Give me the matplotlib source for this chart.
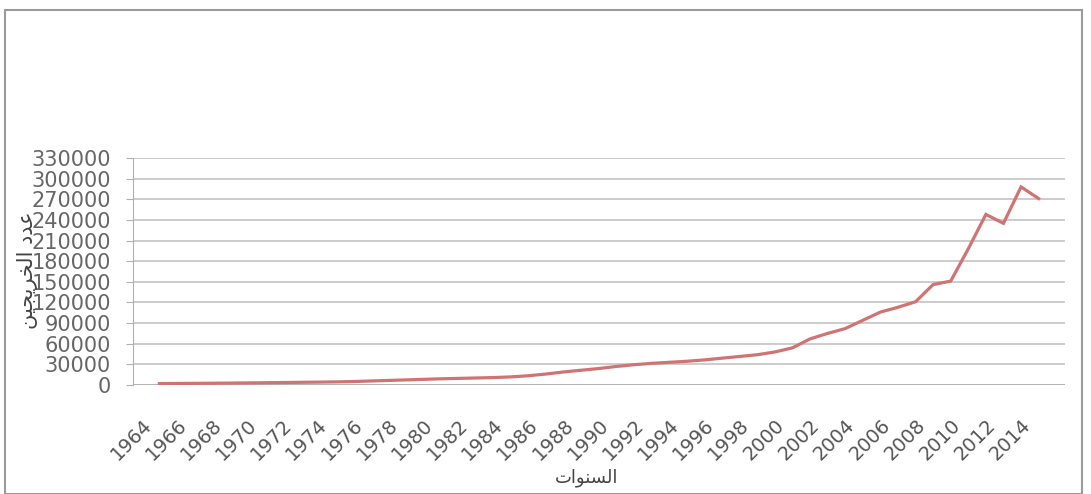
import numpy as np
import matplotlib
matplotlib.use("Agg")
import matplotlib.pyplot as plt
from matplotlib.patches import Rectangle

plt.rcParams['font.family'] = ['DejaVu Sans']

# years on the category axis (last slot stays empty, as in the original)
years = list(range(1964, 2017))
# number of graduates (1964 and 2016 have no value)
graduates = [np.nan,
             2000, 2200, 2400, 2600, 2800, 3000, 3300, 3600, 3900, 4200,
             4500, 5000, 5800, 6600, 7400, 8200, 9000, 9600, 10200, 10800,
             11800, 13500, 16000, 19000, 21500, 24000, 27000, 29500, 31500, 33000,
             34500, 36500, 39000, 41500, 44000, 48000, 54000, 67000, 75000, 82000,
             94000, 106000, 113000, 121000, 146000, 151000, 198000, 248000, 235000, 288000,
             271000, np.nan]
yticks = list(range(0, 330001, 30000))
xtick_years = list(range(1964, 2015, 2))

# Arabic text, pre-shaped (presentation forms, visual order) since matplotlib does no shaping
xlabel = "\uFE95\uFE8D\uFEEE\uFEE8\uFEB4\uFEDF\uFE8D"                      # السنوات
ylabel = "\uFEE6\uFEF4\uFEA0\uFEF3\uFEAE\uFEA8\uFEDF\uFE8D \uFEA9\uFEAA\uFECB"  # عدد الخريجين

W, H = 1091, 494
fig = plt.figure(figsize=(W / 100, H / 100), dpi=100)
ax = fig.add_axes([133 / W, 1 - 385 / H, (1065 - 133) / W, (385 - 158) / H])

x = np.arange(len(years))
ax.plot(x, graduates, color='#cf7373', lw=2.3, solid_joinstyle='miter')

ax.set_xlim(-0.5, len(years) - 0.5)
ax.set_ylim(0, 330000)
ax.set_yticks(yticks)
ax.set_yticklabels([str(v) for v in yticks])
ax.grid(axis='y', color='#c4c4c4', lw=1.2)
ax.set_axisbelow(True)

xt = [years.index(y) for y in xtick_years]
ax.set_xticks(xt)
ax.set_xticklabels([str(y) for y in xtick_years], rotation=45, ha='right', va='top',
                   rotation_mode='anchor')

for s in ['top', 'right', 'bottom']:
    ax.spines[s].set_visible(False)
ax.spines['left'].set_color('#b0b0b0')
ax.axhline(0, color='#b0b0b0', lw=1.2, zorder=1)

ax.tick_params(axis='y', length=5, color='#b0b0b0', pad=11, labelsize=15, labelcolor='#666666')
ax.tick_params(axis='x', length=0, pad=22, labelsize=14, labelcolor='#555555')

fig.text(587 / W, 1 - 478 / H, xlabel, ha='center', va='center', fontsize=13, color='#444444')
fig.text(27 / W, 1 - 270 / H, ylabel, ha='center', va='center', rotation=90,
         fontsize=15, color='#444444')

# chart border
fig.patches.append(Rectangle((5 / W, 0), (1082 - 5) / W, 1 - 10 / H, transform=fig.transFigure,
                             fill=False, edgecolor='#9a9a9a', lw=1.5))

fig.savefig('out.png', dpi=100)
